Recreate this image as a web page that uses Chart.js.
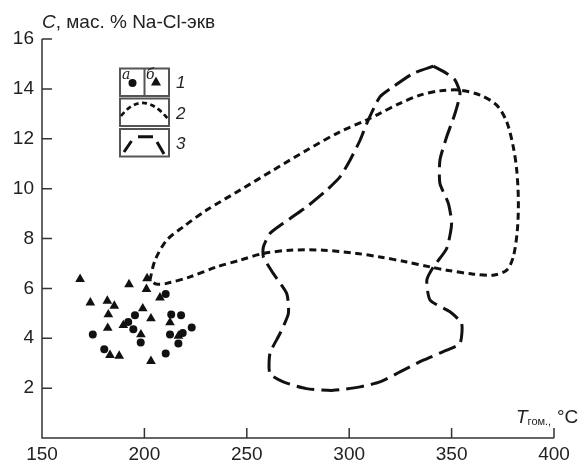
<!DOCTYPE html>
<html lang="ru">
<head>
<meta charset="UTF-8">
<title>C – T гом.</title>
<script src="https://cdn.jsdelivr.net/npm/chart.js"></script>
<style>
  html, body { margin: 0; padding: 0; background: #fff; }
  #wrap { width: 584px; height: 465px; }
</style>
</head>
<body>
<div id="wrap"><canvas id="chart" width="584" height="465"></canvas></div>
<script>
// 1a: circles (а)
const circlesX = [174.8, 192.1, 195.4, 194.6, 198.2, 180.4, 210.4, 213.1, 217.9, 223.1, 212.5, 218.7, 216.6, 210.4];
const circlesY = [4.15, 4.65, 4.92, 4.36, 3.83, 3.56, 5.77, 4.95, 4.92, 4.43, 4.15, 4.21, 3.79, 3.39];
// 1б: triangles (б)
const trianglesX = [168.6, 192.5, 201.3, 201.0, 173.6, 181.9, 185.3, 182.4, 199.2, 182.1, 189.7, 198.3, 183.2, 187.7, 203.2, 207.6, 212.5, 216.6, 203.2];
const trianglesY = [6.37, 6.16, 6.40, 5.97, 5.43, 5.50, 5.30, 4.95, 5.19, 4.41, 4.52, 4.15, 3.32, 3.29, 4.79, 5.63, 4.63, 4.09, 3.08];
// 2: short-dashed contour
const contour2X = [202.7, 205.2, 210.9, 219.0, 230.4, 246.7, 262.9, 279.2, 295.5, 308.5, 315.0, 324.8, 334.6, 344.3, 354.1, 363.9, 372.0, 376.9, 380.1, 381.8, 382.6, 382.1, 380.1, 376.9, 370.4, 360.6, 347.6, 339.5, 328.1, 315.0, 303.7, 287.4, 271.1, 258.1, 246.7, 235.3, 222.3, 210.9, 206.0, 202.7];
const contour2Y = [6.33, 7.13, 7.93, 8.47, 9.14, 9.94, 10.74, 11.54, 12.28, 12.75, 13.02, 13.42, 13.75, 13.92, 13.95, 13.75, 13.35, 12.68, 11.68, 10.74, 9.54, 8.33, 7.26, 6.73, 6.53, 6.57, 6.73, 6.86, 7.06, 7.26, 7.40, 7.53, 7.53, 7.40, 7.13, 6.86, 6.46, 6.20, 6.17, 6.33];
// 3: long-dashed contour
const contour3X = [341.1, 331.3, 321.5, 315.0, 309.3, 305.3, 300.4, 295.5, 289.0, 279.2, 267.8, 261.3, 258.1, 258.1, 262.9, 269.5, 270.3, 266.2, 261.3, 261.3, 267.8, 279.2, 292.2, 305.3, 315.0, 324.8, 336.2, 347.6, 354.1, 354.9, 349.2, 339.5, 337.9, 341.1, 347.6, 350.0, 348.4, 344.3, 344.3, 347.6, 351.7, 354.1, 351.7, 347.6, 341.1];
const contour3Y = [14.91, 14.62, 14.09, 13.68, 12.75, 11.94, 11.14, 10.47, 9.94, 9.27, 8.61, 8.20, 7.66, 7.26, 6.60, 5.79, 4.99, 4.19, 3.39, 2.58, 2.25, 1.98, 1.91, 2.05, 2.25, 2.65, 3.12, 3.52, 3.79, 4.59, 5.06, 5.53, 6.33, 6.86, 7.60, 8.60, 9.41, 10.21, 11.14, 12.08, 13.02, 13.82, 14.35, 14.62, 14.91];

const xTicks = [150, 200, 250, 300, 350, 400];
const yTicks = [2, 4, 6, 8, 10, 12, 14, 16];

const ink = '#111';
const axisColor = '#333';
const FONT = '"Liberation Sans", Arial, sans-serif';

function pts(xs, ys) {
    return xs.map((x, i) => ({ x: x, y: ys[i] }));
}

// axis ticks pointing inside, titles and the small legend boxes
const decor = {
    id: 'decor',
    afterDraw(chart) {
        const ctx = chart.ctx;
        const xs = chart.scales.x, ys = chart.scales.y;
        const a = chart.chartArea;
        ctx.save();
        ctx.strokeStyle = axisColor;
        ctx.lineWidth = 1.5;
        ctx.beginPath();
        ctx.moveTo(a.left, a.top);
        ctx.lineTo(a.left, a.bottom);
        ctx.lineTo(a.right, a.bottom);
        yTicks.forEach(v => {
            const p = ys.getPixelForValue(v);
            ctx.moveTo(a.left, p);
            ctx.lineTo(a.left + 10, p);
        });
        xTicks.forEach(v => {
            const p = xs.getPixelForValue(v);
            ctx.moveTo(p, a.bottom);
            ctx.lineTo(p, a.bottom - 10);
        });
        ctx.stroke();

        // titles
        ctx.fillStyle = '#222';
        ctx.textBaseline = 'alphabetic';
        ctx.textAlign = 'left';
        ctx.font = 'italic 19px ' + FONT;
        ctx.fillText('C', 42, 28);
        let w = ctx.measureText('C').width;
        ctx.font = '19px ' + FONT;
        ctx.fillText(', мас. % Na-Cl-экв', 42 + w, 28);

        ctx.font = 'italic 19px ' + FONT;
        ctx.fillText('T', 516, 423);
        w = ctx.measureText('T').width;
        ctx.font = '11px ' + FONT;
        ctx.fillText('гом.,', 516 + w, 425);
        ctx.font = '19px ' + FONT;
        ctx.fillText('°C', 557, 423);

        // legend boxes
        ctx.strokeStyle = '#555';
        ctx.lineWidth = 2;
        ctx.strokeRect(120, 68.5, 49, 27.5);
        ctx.strokeRect(120, 98.5, 49, 27.5);
        ctx.strokeRect(120, 129, 49, 27.5);
        ctx.beginPath();
        ctx.moveTo(144.5, 68.5);
        ctx.lineTo(144.5, 96);
        ctx.stroke();

        ctx.fillStyle = '#222';
        ctx.font = 'italic 14px "DejaVu Serif", serif';
        ctx.fillText('а', 122, 79);
        ctx.fillText('б', 146, 79);
        ctx.fillStyle = ink;
        ctx.beginPath();
        ctx.arc(132.5, 83, 4, 0, Math.PI * 2);
        ctx.fill();
        ctx.beginPath();
        ctx.moveTo(156, 76.5);
        ctx.lineTo(161, 85.5);
        ctx.lineTo(151, 85.5);
        ctx.closePath();
        ctx.fill();

        ctx.strokeStyle = ink;
        ctx.lineWidth = 2.8;
        ctx.setLineDash([5, 3.5]);
        ctx.beginPath();
        ctx.moveTo(121, 116);
        ctx.quadraticCurveTo(143, 88.5, 168, 119);
        ctx.stroke();
        ctx.setLineDash([]);
        ctx.lineWidth = 3;
        ctx.beginPath();
        ctx.moveTo(124, 152);
        ctx.lineTo(131.5, 141);
        ctx.moveTo(138, 136.7);
        ctx.lineTo(153, 136.7);
        ctx.moveTo(157, 142);
        ctx.lineTo(164, 154);
        ctx.stroke();

        ctx.fillStyle = '#222';
        ctx.font = 'italic 17px ' + FONT;
        ctx.fillText('1', 176, 87.5);
        ctx.fillText('2', 176, 119);
        ctx.fillText('3', 176, 148.5);
        ctx.restore();
    }
};

new Chart(document.getElementById('chart'), {
    type: 'scatter',
    data: {
        datasets: [{
            label: '2',
            data: pts(contour2X, contour2Y),
            showLine: true,
            borderColor: ink,
            borderWidth: 3,
            borderDash: [7, 4.5],
            tension: 0.3,
            pointRadius: 0
        }, {
            label: '3',
            data: pts(contour3X, contour3Y),
            showLine: true,
            borderColor: ink,
            borderWidth: 3,
            borderDash: [18, 7],
            tension: 0.2,
            pointRadius: 0
        }, {
            label: '1а',
            data: pts(circlesX, circlesY),
            pointStyle: 'circle',
            pointRadius: 4,
            backgroundColor: ink,
            borderWidth: 0
        }, {
            label: '1б',
            data: pts(trianglesX, trianglesY),
            pointStyle: 'triangle',
            pointRadius: 5.6,
            backgroundColor: ink,
            borderWidth: 0
        }]
    },
    options: {
        responsive: false,
        animation: false,
        layout: { padding: { left: 0, right: 30, top: 39, bottom: 0 } },
        plugins: { legend: { display: false }, tooltip: { enabled: false } },
        scales: {
            x: {
                type: 'linear',
                min: 150,
                max: 400,
                afterBuildTicks: s => { s.ticks = xTicks.map(v => ({ value: v })); },
                afterFit: s => { s.height = 27; },
                grid: { display: false, drawTicks: false },
                border: { display: false },
                ticks: { color: '#222', padding: 5, font: { family: FONT, size: 19 } }
            },
            y: {
                type: 'linear',
                min: 0,
                max: 16,
                afterBuildTicks: s => { s.ticks = yTicks.map(v => ({ value: v })); },
                afterFit: s => { s.width = 42; },
                grid: { display: false, drawTicks: false },
                border: { display: false },
                ticks: { color: '#222', padding: 8, font: { family: FONT, size: 19 } }
            }
        }
    },
    plugins: [decor]
});
</script>
</body>
</html>
